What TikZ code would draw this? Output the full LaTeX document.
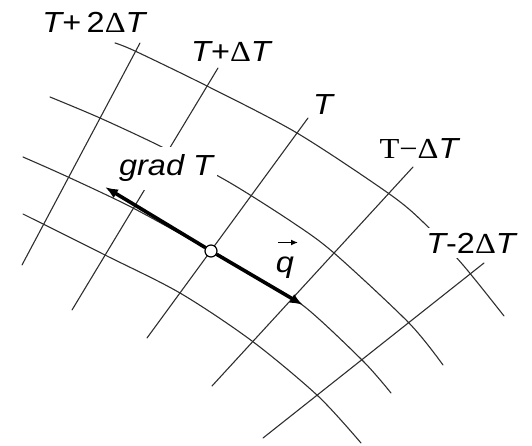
\documentclass[tikz,border=0pt]{standalone}
\usepackage{fontspec}
\usepackage{graphicx}
\setmainfont{Liberation Sans}
\newfontfamily\serf{Liberation Serif}
\usetikzlibrary{arrows.meta}
\newcommand{\lblstretch}[1]{\scalebox{1.12}[1]{#1}}
\begin{document}
\begin{tikzpicture}[x=1pt,y=-1pt,
  grid/.style={line width=1.1pt, draw=black!82, line cap=round},
  lbl/.style={font=\fontsize{29}{29}\selectfont, inner sep=0pt, text=black},
  cover/.style={lbl, fill=white, inner sep=5pt},
  flux/.style={line width=3.6pt, draw=black, -{Latex[length=13pt,width=10pt]}},
  vecarrow/.style={line width=1.3pt, -{Latex[length=7pt,width=6pt]}},
  pt/.style={circle, draw=black, fill=white, line width=1.2pt, minimum size=12pt, inner sep=0pt}]
\useasboundingbox (0,0) rectangle (532,446);
% isotherms
\coordinate (L1a) at (140,43);  \coordinate (L1b) at (22,265);
\coordinate (L2a) at (218,68);  \coordinate (L2b) at (72,310);
\coordinate (L3a) at (308,118); \coordinate (L3b) at (147,338);
\coordinate (L4a) at (413,167); \coordinate (L4b) at (212,386);
\coordinate (L5a) at (484,263); \coordinate (L5b) at (263,438);
\draw[grid] (L1a) -- (L1b);
\draw[grid] (L2a) -- (L2b);
\draw[grid] (L3a) -- (L3b);
\draw[grid] (L4a) -- (L4b);
\draw[grid] (L5a) -- (L5b);
% flux lines
\draw[grid] plot[smooth] coordinates {(115,43) (135,51) (207,86) (297,133) (388,193) (423,222) (463,265) (504,316)};
\draw[grid] plot[smooth] coordinates {(50,97) (100,118) (162,147) (227,181) (292,222) (334,253) (409,323) (443,365)};
\draw[grid] plot[smooth] coordinates {(23,157) (68,177) (133,208) (211,251) (258,278) (305,307) (363,361) (391,393)};
\draw[grid] plot[smooth] coordinates {(23,214) (105,255) (180,293) (252,341) (318,396) (361,443)};
% labels
\node[lbl] (t2p) at (94,22.5) {\lblstretch{{\itshape T}+\,2{\serf Δ}{\itshape T}}};
\node[lbl] (t1p) at (231,51.3) {\lblstretch{{\itshape T}+{\serf Δ}{\itshape T}}};
\node[lbl] (t0) at (323,105) {\lblstretch{{\itshape T}}};
\node[lbl] (t1m) at (419,149) {\lblstretch{{\serf T−Δ}{\itshape T}}};
\node[cover] (t2m) at (471,243) {\lblstretch{{\itshape T}-2{\serf Δ}{\itshape T}}};
\node[cover, anchor=base, inner xsep=4pt, inner ysep=7.5pt] (grad) at (166,176) {\lblstretch{\itshape grad T}};
\node[lbl, anchor=base] (q) at (285,272) {\lblstretch{\itshape q}};
\coordinate (qa) at (278,242.5);
\coordinate (qb) at (298,242.5);
\draw[vecarrow] (qa) -- (qb);
% gradient / flux arrows
\node[pt] (P) at (211,251) {};
\coordinate (gtip) at (105,187);
\coordinate (qtip) at (303,305);
\draw[flux] (P) -- (gtip);
\draw[flux] (P) -- (qtip);
\end{tikzpicture}
\end{document}
